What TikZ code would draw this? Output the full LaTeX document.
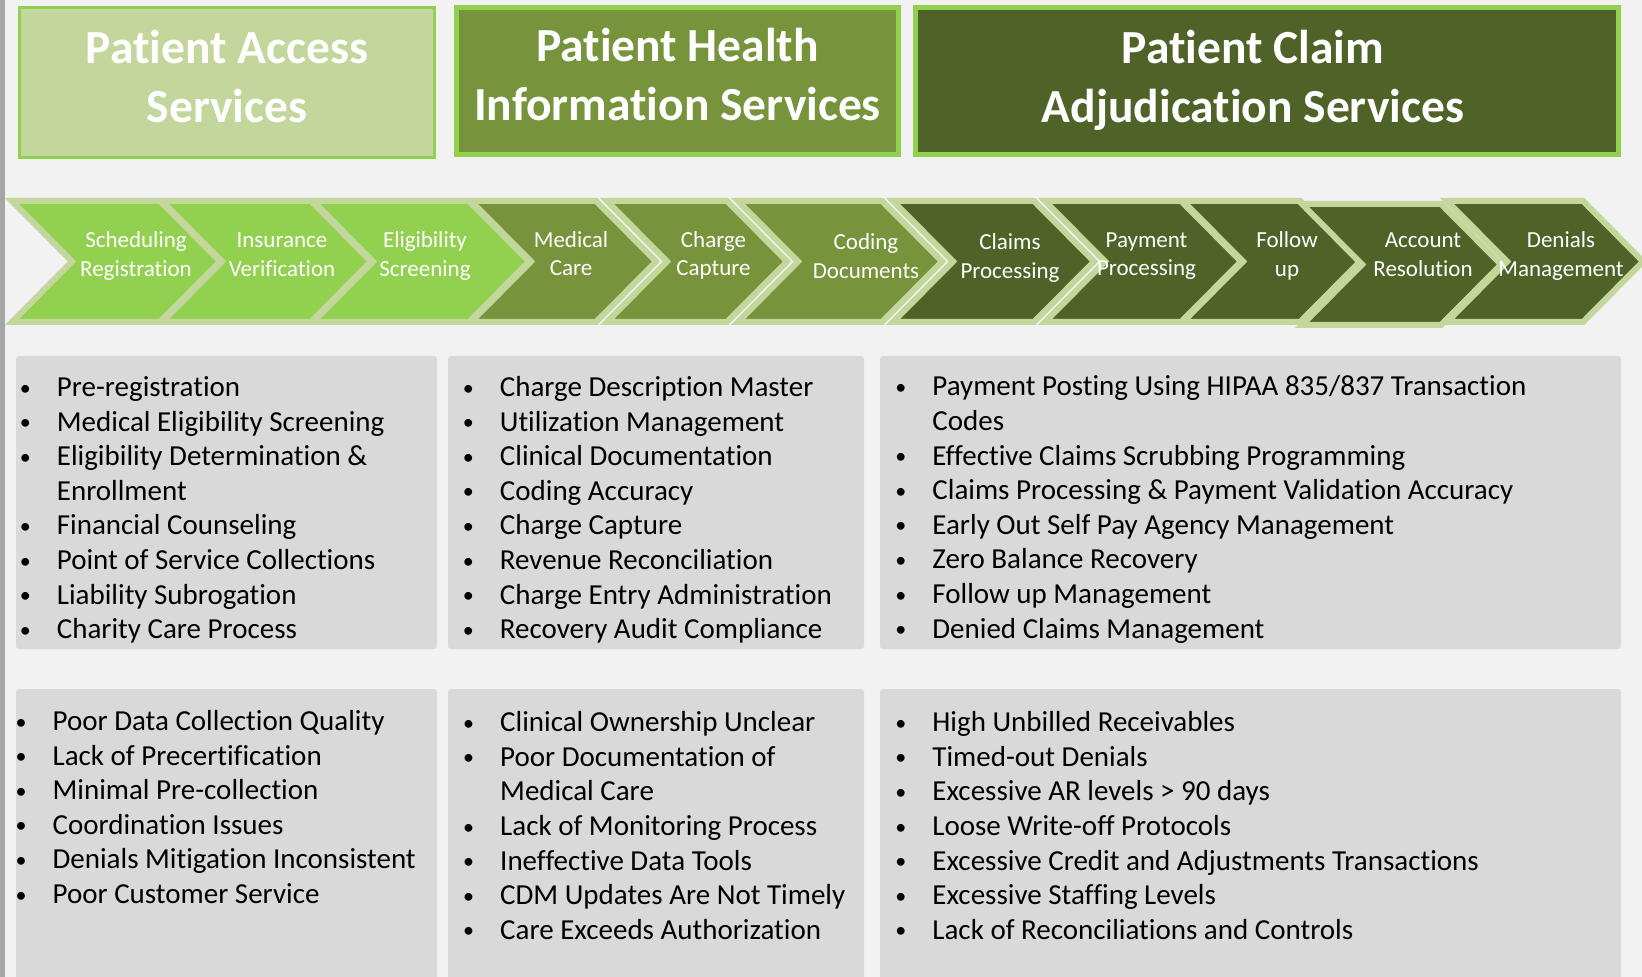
\documentclass[tikz,border=0pt]{standalone}
\usepackage{fontspec}
\setmainfont{Carlito}[RawFeature={-liga}]
\definecolor{pagebg}{HTML}{F2F2F2}
\definecolor{edgegray}{HTML}{A6A6A6}
\definecolor{palegreen}{HTML}{C3D69B}
\definecolor{limegreen}{HTML}{92D050}
\definecolor{olivegreen}{HTML}{77933C}
\definecolor{darkolive}{HTML}{4F6228}
\definecolor{listgray}{HTML}{D9D9D9}
\newcommand\bul[1]{\par\hangindent=15.75pt\hangafter=1\noindent\makebox[15.75pt][l]{\makebox[0pt]{\raisebox{0.7pt}{\fontsize{11}{0}\selectfont\textbullet}}}#1}

\begin{document}
\begin{tikzpicture}[x=0.5pt, y=-0.5pt,
  hbox/.style = {draw=limegreen, line width=2.5pt},
  chev/.style = {draw=palegreen, line width=3pt, line join=miter},
  htext/.style = {text=white, align=center, anchor=base, inner sep=0,
    font=\bfseries\fontsize{23.75}{29.25}\selectfont},
  ctext/.style = {text=white, align=center, anchor=base, inner sep=0,
    font=\fontsize{11.5}{14.25}\selectfont},
  lbox/.style = {fill=listgray, rounded corners=1.5pt},
  ltext/.style = {anchor=base west, inner sep=0, text=black,
    font=\fontsize{14.5}{17.3}\selectfont},
  ]
  \fill[pagebg] (0,0) rectangle (1642,977);
  \useasboundingbox (0,0) rectangle (1642,977);
  \clip (0,0) rectangle (1642,977);
  \fill[edgegray] (0,0) rectangle (5,977);

  \filldraw[hbox, fill=palegreen, line width=1.5pt] (19.5,7.5) rectangle (434.5,157.8);
  \filldraw[hbox, fill=olivegreen] (456.5,7.2) rectangle (898.5,154.8);
  \filldraw[hbox, fill=darkolive] (915.5,7.2) rectangle (1618.5,154.8);
  \node[htext] (access) at (227,122.5) {Patient Access\\Services};
  \node[htext] (health) at (677.5,120.5) {Patient Health\\Information Services};
  \node[htext] (claim) at (1253,122.5) {Patient Claim\\Adjudication Services};

  \filldraw[chev, fill=limegreen] (12,201) -- (160,201) -- (220,261.5) -- (160,322) -- (12,322) -- (72,261.5) -- cycle;
  \filldraw[chev, fill=limegreen] (162,201) -- (311,201) -- (371,261.5) -- (311,322) -- (162,322) -- (222,261.5) -- cycle;
  \filldraw[chev, fill=limegreen] (313,201) -- (469,201) -- (529,261.5) -- (469,322) -- (313,322) -- (373,261.5) -- cycle;
  \filldraw[chev, fill=olivegreen] (471,201) -- (596,201) -- (656,261.5) -- (596,322) -- (471,322) -- (531,261.5) -- cycle;
  \filldraw[chev, fill=olivegreen] (607,201) -- (727,201) -- (787,261.5) -- (727,322) -- (607,322) -- (667,261.5) -- cycle;
  \filldraw[chev, fill=olivegreen] (738,201) -- (882,201) -- (942,261.5) -- (882,322) -- (738,322) -- (798,261.5) -- cycle;
  \filldraw[chev, fill=darkolive] (893,201) -- (1034,201) -- (1094,261.5) -- (1034,322) -- (893,322) -- (953,261.5) -- cycle;
  \filldraw[chev, fill=darkolive] (1045,201) -- (1181,201) -- (1241,261.5) -- (1181,322) -- (1045,322) -- (1105,261.5) -- cycle;
  \filldraw[chev, fill=darkolive] (1183,201) -- (1300,201) -- (1360,261.5) -- (1300,322) -- (1183,322) -- (1243,261.5) -- cycle;
  \filldraw[chev, fill=darkolive] (1302,204) -- (1441,204) -- (1501,264.5) -- (1441,325) -- (1302,325) -- (1362,264.5) -- cycle;
  \filldraw[chev, fill=darkolive] (1447,201) -- (1583,201) -- (1643,261.5) -- (1583,322) -- (1447,322) -- (1507,261.5) -- cycle;

  \node[ctext] (sched) at (136,276.5) {Scheduling\\Registration};
  \node[ctext] (insur) at (282,276.5) {Insurance\\Verification};
  \node[ctext] (elig) at (425,276.5) {Eligibility\\Screening};
  \node[ctext] (medcare) at (571,276) {Medical\\Care};
  \node[ctext] (chcap) at (713.5,276) {Charge\\Capture};
  \node[ctext] (coding) at (866,278.5) {Coding\\Documents};
  \node[ctext] (claims) at (1010,278.5) {Claims\\Processing};
  \node[ctext] (paymt) at (1146.5,276) {Payment\\Processing};
  \node[ctext] (follow) at (1287,276.5) {Follow\\up};
  \node[ctext] (acct) at (1423,276.5) {Account\\Resolution};
  \node[ctext] (denial) at (1561,276.5) {Denials\\Management};

  \fill[lbox] (16,356) rectangle (437,649);
  \fill[lbox] (448,356) rectangle (864,649);
  \fill[lbox] (880,356) rectangle (1621,649);
  \fill[lbox] (16,689) rectangle (437,995);
  \fill[lbox] (448,689) rectangle (864,995);
  \fill[lbox] (880,689) rectangle (1621,995);

  \node[ltext] (accl) at (25,396.5) {\begin{minipage}[t]{340pt}\raggedright
    \bul{Pre-registration}
    \bul{Medical Eligibility Screening}
    \bul{Eligibility Determination \&\newline Enrollment}
    \bul{Financial Counseling}
    \bul{Point of Service Collections}
    \bul{Liability Subrogation}
    \bul{Charity Care Process}
  \end{minipage}};
  \node[ltext] (hisl) at (468,396.5) {\begin{minipage}[t]{340pt}\raggedright
    \bul{Charge Description Master}
    \bul{Utilization Management}
    \bul{Clinical Documentation}
    \bul{Coding Accuracy}
    \bul{Charge Capture}
    \bul{Revenue Reconciliation}
    \bul{Charge Entry Administration}
    \bul{Recovery Audit Compliance}
  \end{minipage}};
  \node[ltext] (clml) at (900.5,396) {\begin{minipage}[t]{340pt}\raggedright
    \bul{Payment Posting Using HIPAA 835/837 Transaction\newline Codes}
    \bul{Effective Claims Scrubbing Programming}
    \bul{Claims Processing \& Payment Validation Accuracy}
    \bul{Early Out Self Pay Agency Management}
    \bul{Zero Balance Recovery}
    \bul{Follow up Management}
    \bul{Denied Claims Management}
  \end{minipage}};

  \node[ltext] (accp) at (20.7,730.5) {\begin{minipage}[t]{340pt}\raggedright
    \bul{Poor Data Collection Quality}
    \bul{Lack of Precertification}
    \bul{Minimal Pre-collection}
    \bul{Coordination Issues}
    \bul{Denials Mitigation Inconsistent}
    \bul{Poor Customer Service}
  \end{minipage}};
  \node[ltext] (hisp) at (468.3,731.7) {\begin{minipage}[t]{340pt}\raggedright
    \bul{Clinical Ownership Unclear}
    \bul{Poor Documentation of\newline Medical Care}
    \bul{Lack of Monitoring Process}
    \bul{Ineffective Data Tools}
    \bul{CDM Updates Are Not Timely}
    \bul{Care Exceeds Authorization}
  \end{minipage}};
  \node[ltext] (clmp) at (900.5,731.7) {\begin{minipage}[t]{340pt}\raggedright
    \bul{High Unbilled Receivables}
    \bul{Timed-out Denials}
    \bul{Excessive AR levels > 90 days}
    \bul{Loose Write-off Protocols}
    \bul{Excessive Credit and Adjustments Transactions}
    \bul{Excessive Staffing Levels}
    \bul{Lack of Reconciliations and Controls}
  \end{minipage}};
\end{tikzpicture}
\end{document}
